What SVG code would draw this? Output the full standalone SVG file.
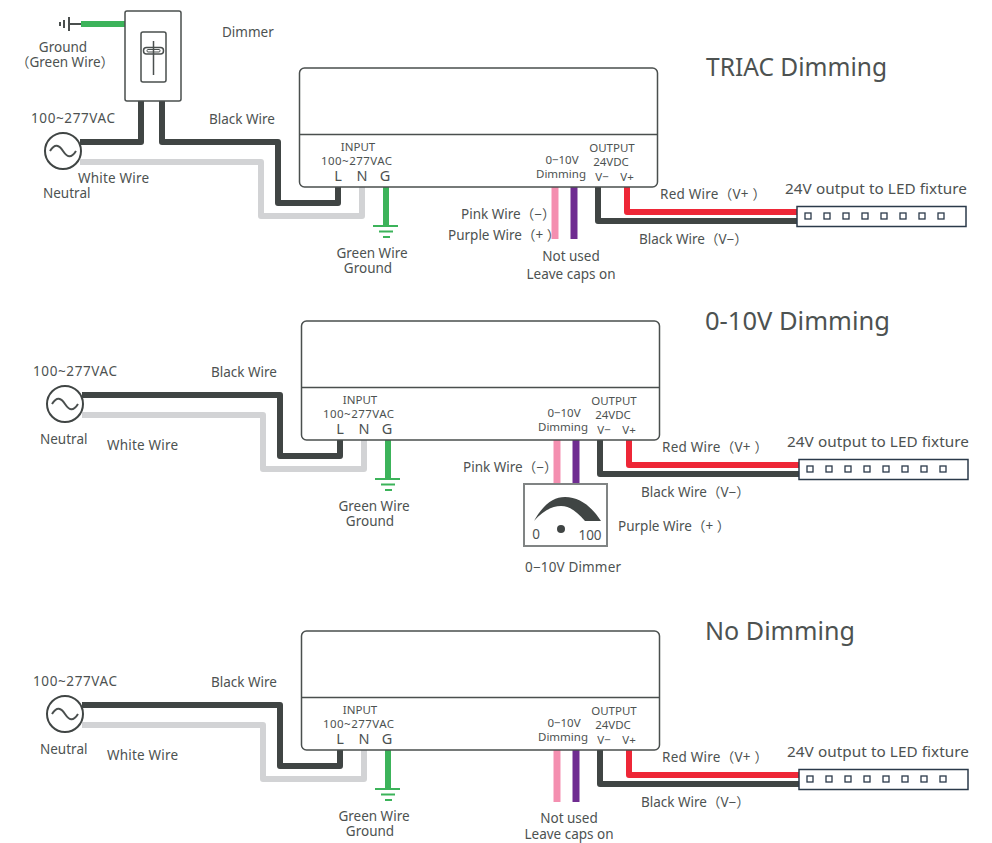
<svg xmlns="http://www.w3.org/2000/svg" width="992" height="843" viewBox="0 0 992 843">
<style>
text{font-family:"Noto Sans","Noto Sans CJK KR",sans-serif;fill:#4d5251;font-size:13.500px}
.m{text-anchor:middle}
.s{font-size:11.500px}
.b{font-size:14.500px}
.f{font-size:15.300px}
.t{font-size:25.500px}
.box{fill:#fff;stroke:#4a4f4e;stroke-width:1.500}
.ln{fill:none;stroke:#4a4f4e;stroke-width:1.500}
.w{fill:none;stroke-width:6;stroke-linejoin:round}
.n{stroke-width:7}
.k{stroke:#404544}.y{stroke:#d2d3d5}.g{stroke:#3cb35a}.r{stroke:#ee2737}.p{stroke:#f48fb0}.u{stroke:#6f2c91}
.src{fill:#fff;stroke:#404544;stroke-width:2}
.led{fill:#fff;stroke:#2b3a4a;stroke-width:1.500}
.sq{fill:#fff;stroke:#2b3a4a;stroke-width:1.300}
</style>
<defs>
<g id="psu"><rect class="box" x="299.500" y="68" width="358" height="119" rx="5"/><path class="ln" d="M299.500 134.500H657.500"/></g>
<g id="sine"><circle class="src" cx="63" cy="151" r="18"/><path class="ln" style="stroke-width:2" d="M50 151C55 143 59 145 63 151S71 159 76 151"/></g>
<g id="strip"><rect class="led" x="797" y="206.500" width="169" height="20"/><g class="sq"><rect x="805" y="213" width="6" height="6"/><rect x="824" y="213" width="6" height="6"/><rect x="843" y="213" width="6" height="6"/><rect x="862" y="213" width="6" height="6"/><rect x="881" y="213" width="6" height="6"/><rect x="900" y="213" width="6" height="6"/><rect x="919" y="213" width="6" height="6"/><rect x="938" y="213" width="6" height="6"/></g></g>
<g id="earth"><path class="g" fill="none" stroke-width="2" d="M373 226H398M379 231.500H393M383 237H390"/></g>
</defs>

<g id="connectors">
<g id="wires-triac">
<path class="w k" d="M80 142H141V101"/>
<path class="w k" d="M162 101V142H278V203H338V187"/>
<path class="w y" d="M80 162H261V216H362V187"/>
<path class="w g" d="M386 187V226"/>
<path class="w g" d="M81 24H125"/>
<path class="w n p" d="M555 187V239"/>
<path class="w n u" d="M574 187V239"/>
<path class="w r" d="M627 187V212H797"/>
<path class="w k" d="M598 187V221H797"/>
</g>
<g id="wires-010v" transform="translate(2 253)">
<path class="w k" d="M80 142H278V203H338V187"/>
<path class="w y" d="M80 162H261V216H362V187"/>
<path class="w g" d="M386 187V226"/>
<path class="w n p" d="M555 187V231"/>
<path class="w n u" d="M574 187V231"/>
<path class="w r" d="M627 187V212H797"/>
<path class="w k" d="M598 187V221H797"/>
</g>
<g id="wires-none" transform="translate(2 563)">
<path class="w k" d="M80 142H278V203H338V187"/>
<path class="w y" d="M80 162H261V216H362V187"/>
<path class="w g" d="M386 187V226"/>
<path class="w n p" d="M555 187V239"/>
<path class="w n u" d="M574 187V239"/>
<path class="w r" d="M627 187V212H797"/>
<path class="w k" d="M598 187V221H797"/>
</g>
</g>

<g id="triac-title"><text class="t" x="706" y="76" textLength="181" lengthAdjust="spacingAndGlyphs">TRIAC Dimming</text></g>
<g id="triac-dimmer">
<rect class="box" x="125" y="11" width="56" height="90" rx="2"/>
<rect class="box" x="141" y="32" width="25" height="50" rx="2"/>
<rect class="ln" x="143.500" y="47.500" width="20" height="6.500" rx="3"/>
<rect class="ln" style="stroke-width:1" x="147" y="49.500" width="13" height="2.500" rx="1"/>
<path class="ln" d="M153.500 41V75"/>
<text x="222" y="37">Dimmer</text>
</g>
<g id="triac-ground">
<path class="ln" style="stroke-width:2" d="M69 24H81M69 17V31M64 20V28"/><path class="ln" style="stroke-width:2" d="M60 22V26"/>
<text class="m" x="63" y="52">Ground</text><text class="m" x="65" y="67">（Green Wire）</text>
</g>
<g id="triac-source"><use href="#sine"/><text x="31" y="123" textLength="84">100~277VAC</text><text x="43" y="198">Neutral</text></g>
<g id="triac-labels"><text x="209" y="124">Black Wire</text><text x="78" y="183" textLength="71">White Wire</text></g>
<g id="triac-driver"><use href="#psu"/>
<text class="s m" x="358" y="151">INPUT</text><text class="s" x="321" y="165" textLength="71">100~277VAC</text>
<text x="338" y="181" class="m b">L</text><text x="362" y="181" class="m b">N</text><text x="385" y="181" class="m b">G</text>
<text class="s m" x="562" y="164">0−10V</text><text class="s m" x="561" y="178">Dimming</text>
<text class="s m" x="612" y="152">OUTPUT</text><text class="s m" x="611" y="166">24VDC</text><text class="s m" x="602" y="181">V−</text><text class="s m" x="627" y="181">V+</text>
</g>
<g id="triac-earth"><use href="#earth"/><text class="m" x="372" y="258">Green Wire</text><text class="m" x="368" y="273">Ground</text></g>
<g id="triac-dim-labels"><text x="461" y="219">Pink Wire（−）</text><text x="448" y="240">Purple Wire（+ ）</text><text class="m" x="571" y="261">Not used</text><text class="m" x="571" y="279">Leave caps on</text></g>
<g id="triac-output"><use href="#strip"/><text x="660" y="199" textLength="106">Red Wire（V+ ）</text><text x="639" y="244">Black Wire（V−）</text><text class="f" x="785" y="194" textLength="182">24V output to LED fixture</text></g>

<g id="v010-title"><text class="t" x="705" y="330" textLength="185" lengthAdjust="spacingAndGlyphs">0-10V Dimming</text></g>
<g id="v010-source" transform="translate(2 253)"><use href="#sine"/><text x="31" y="123" textLength="84">100~277VAC</text><text x="38" y="191">Neutral</text></g>
<g id="v010-labels" transform="translate(2 253)"><text x="209" y="124">Black Wire</text><text x="105" y="197" textLength="71">White Wire</text></g>
<g id="v010-driver" transform="translate(2 253)"><use href="#psu"/>
<text class="s m" x="358" y="151">INPUT</text><text class="s" x="321" y="165" textLength="71">100~277VAC</text>
<text x="338" y="181" class="m b">L</text><text x="362" y="181" class="m b">N</text><text x="385" y="181" class="m b">G</text>
<text class="s m" x="562" y="164">0−10V</text><text class="s m" x="561" y="178">Dimming</text>
<text class="s m" x="612" y="152">OUTPUT</text><text class="s m" x="611" y="166">24VDC</text><text class="s m" x="602" y="181">V−</text><text class="s m" x="627" y="181">V+</text>
</g>
<g id="v010-earth" transform="translate(2 253)"><use href="#earth"/><text class="m" x="372" y="258">Green Wire</text><text class="m" x="368" y="273">Ground</text></g>
<g id="v010-knob">
<rect x="524" y="484" width="83" height="62" fill="#fff" stroke="#808484" stroke-width="2"/>
<path fill="#404544" d="M534 521C543 505 553 497 565 497C580 497 592 507 601 521H585C577 512 570 506 561 506C551 506 542 512 534 521Z"/>
<circle cx="561" cy="529" r="4" fill="#404544"/>
<text class="m" x="536" y="539">0</text><text class="m" x="590" y="540">100</text>
<text class="m" x="573" y="572" textLength="96">0−10V Dimmer</text>
<text x="463" y="472">Pink Wire（−）</text><text x="618" y="531">Purple Wire（+ ）</text>
</g>
<g id="v010-output" transform="translate(2 253)"><use href="#strip"/><text x="660" y="199" textLength="106">Red Wire（V+ ）</text><text x="639" y="244">Black Wire（V−）</text><text class="f" x="785" y="194" textLength="182">24V output to LED fixture</text></g>

<g id="none-title"><text class="t" x="705" y="640" textLength="150" lengthAdjust="spacingAndGlyphs">No Dimming</text></g>
<g id="none-source" transform="translate(2 563)"><use href="#sine"/><text x="31" y="123" textLength="84">100~277VAC</text><text x="38" y="191">Neutral</text></g>
<g id="none-labels" transform="translate(2 563)"><text x="209" y="124">Black Wire</text><text x="105" y="197" textLength="71">White Wire</text></g>
<g id="none-driver" transform="translate(2 563)"><use href="#psu"/>
<text class="s m" x="358" y="151">INPUT</text><text class="s" x="321" y="165" textLength="71">100~277VAC</text>
<text x="338" y="181" class="m b">L</text><text x="362" y="181" class="m b">N</text><text x="385" y="181" class="m b">G</text>
<text class="s m" x="562" y="164">0−10V</text><text class="s m" x="561" y="178">Dimming</text>
<text class="s m" x="612" y="152">OUTPUT</text><text class="s m" x="611" y="166">24VDC</text><text class="s m" x="602" y="181">V−</text><text class="s m" x="627" y="181">V+</text>
</g>
<g id="none-earth" transform="translate(2 563)"><use href="#earth"/><text class="m" x="372" y="258">Green Wire</text><text class="m" x="368" y="273">Ground</text></g>
<g id="none-caps"><text class="m" x="569" y="823">Not used</text><text class="m" x="569" y="839">Leave caps on</text></g>
<g id="none-output" transform="translate(2 563)"><use href="#strip"/><text x="660" y="199" textLength="106">Red Wire（V+ ）</text><text x="639" y="244">Black Wire（V−）</text><text class="f" x="785" y="194" textLength="182">24V output to LED fixture</text></g>
</svg>
